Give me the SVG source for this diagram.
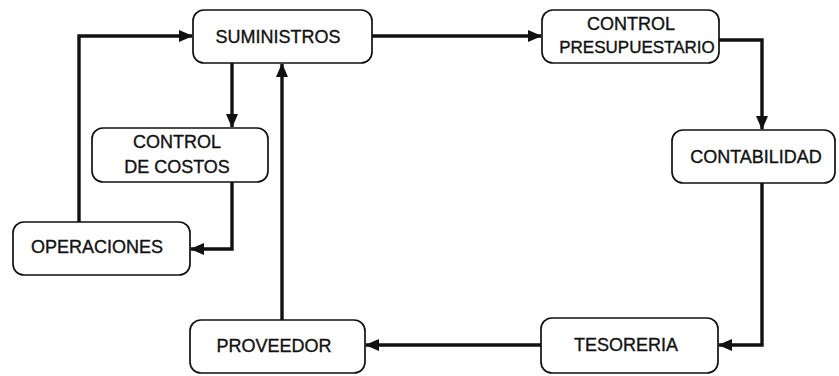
<svg xmlns="http://www.w3.org/2000/svg" width="839" height="376" viewBox="0 0 839 376">
<defs>
<style>
.box{fill:#fff;stroke:#111;stroke-width:1.7}
.lbl{font-family:"Liberation Sans",Arial,sans-serif;font-size:18px;fill:#111;stroke:#111;stroke-width:0.35;text-anchor:middle}
.con{fill:none;stroke:#111;stroke-width:3.4}
</style>
<marker id="ah" markerUnits="userSpaceOnUse" markerWidth="14" markerHeight="14" viewBox="0 0 14 14" refX="13" refY="7" orient="auto">
<path d="M0,1 L14,7 L0,13 Z" fill="#111"/>
</marker>
</defs>
<rect width="839" height="376" fill="#fff"/>
<g id="connectors">
<path class="con" d="M79,222 V36 H192" marker-end="url(#ah)"/>
<path class="con" d="M232,63 V127" marker-end="url(#ah)"/>
<path class="con" d="M232,182 V249 H191" marker-end="url(#ah)"/>
<path class="con" d="M282,320 V64" marker-end="url(#ah)"/>
<path class="con" d="M372,36 H541" marker-end="url(#ah)"/>
<path class="con" d="M719,40 H762 V129" marker-end="url(#ah)"/>
<path class="con" d="M762,183 V345 H719" marker-end="url(#ah)"/>
<path class="con" d="M541,345 H366" marker-end="url(#ah)"/>
</g>
<g id="suministros">
<rect class="box" x="193" y="10" width="179" height="53" rx="11"/>
<text class="lbl" x="278" y="43">SUMINISTROS</text>
</g>
<g id="control-costos">
<rect class="box" x="92" y="128" width="176" height="54" rx="11"/>
<text class="lbl" x="177" y="148">CONTROL</text>
<text class="lbl" x="177" y="173">DE COSTOS</text>
</g>
<g id="operaciones">
<rect class="box" x="13" y="222" width="177" height="53" rx="11"/>
<text class="lbl" x="97" y="253">OPERACIONES</text>
</g>
<g id="proveedor">
<rect class="box" x="190" y="320" width="175" height="53" rx="11"/>
<text class="lbl" x="274" y="352">PROVEEDOR</text>
</g>
<g id="control-presupuestario">
<rect class="box" x="542" y="10" width="177" height="53" rx="11"/>
<text class="lbl" x="631" y="30">CONTROL</text>
<text class="lbl" x="637" y="53" style="font-size:17px">PRESUPUESTARIO</text>
</g>
<g id="contabilidad">
<rect class="box" x="672" y="130" width="163" height="53" rx="11"/>
<text class="lbl" x="756" y="163">CONTABILIDAD</text>
</g>
<g id="tesoreria">
<rect class="box" x="541" y="318" width="177" height="55" rx="11"/>
<text class="lbl" x="626" y="351">TESORERIA</text>
</g>
</svg>
